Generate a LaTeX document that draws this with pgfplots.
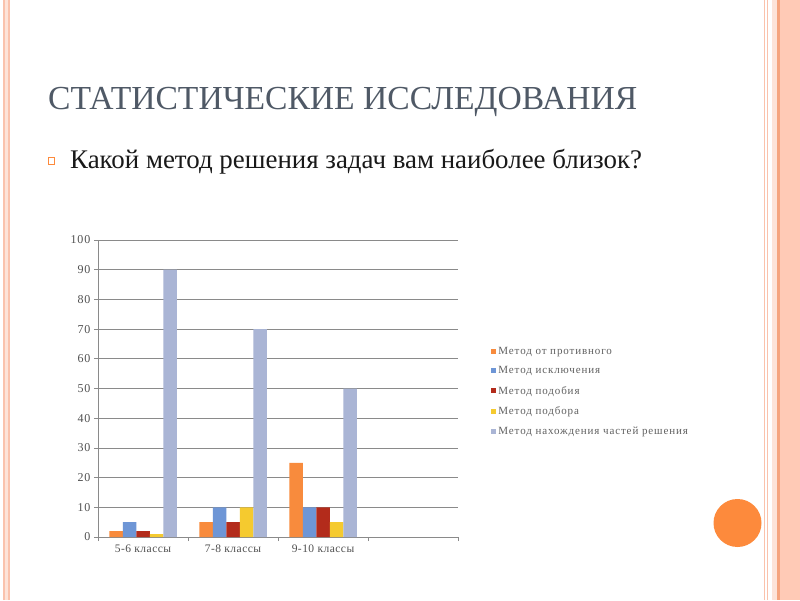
\documentclass[border=0pt]{standalone}
\usepackage{fontspec}
\setmainfont{Liberation Serif}
\usepackage{pgfplots}
\pgfplotsset{compat=1.18}

\definecolor{titlegray}{HTML}{4F5966}
\definecolor{txtgray}{HTML}{505050}
\definecolor{leggray}{HTML}{606060}
\definecolor{gridgray}{HTML}{8A8A8A}
\definecolor{borderlight}{HTML}{FDE3D8}
\definecolor{borderline}{HTML}{FAC2AC}
\definecolor{bandfill}{HTML}{FFCAB6}
\definecolor{banddark}{HTML}{F5A47E}
\definecolor{dotorange}{HTML}{FD8A3C}
\definecolor{c1}{HTML}{F88B3D}
\definecolor{c2}{HTML}{6E96D6}
\definecolor{c3}{HTML}{B32B1B}
\definecolor{c4}{HTML}{F5CA2F}
\definecolor{c5}{HTML}{AAB5D5}

\pgfplotsset{
  mybar/.style={fill=#1, draw=none,
    legend image code/.code={\fill[fill=#1] (0pt,-2.5pt) rectangle (5.5pt,2.5pt);}},
}

\begin{document}
\begin{tikzpicture}[x=1pt,y=1pt]
\useasboundingbox (0,0) rectangle (800,600);
\fill[white] (0,0) rectangle (800,600);

% slide border, left
\fill[borderlight] (3,0) rectangle (10,600);
\draw[borderline, line width=1.2pt] (4,0) -- (4,600);
\draw[borderline, line width=1.2pt] (9,0) -- (9,600);
% slide border, right
\draw[borderline, line width=1pt] (764.5,0) -- (764.5,600);
\draw[borderline, line width=1pt] (767,0) -- (767,600);
\fill[borderlight] (772,0) rectangle (777,600);
\fill[bandfill] (777,0) rectangle (800,600);
\fill[banddark] (777,0) rectangle (780,600);
\fill[dotorange] (737.5,77) circle (24);

% title and bullet
\node[anchor=base west, inner sep=0, text=titlegray,
  font=\fontsize{33.6}{34}\selectfont] at (48,490) {СТАТИСТИЧЕСКИЕ ИССЛЕДОВАНИЯ};
\draw[dotorange, line width=0.6pt] (48,436) rectangle (54,443);
\node[anchor=base west, inner sep=0, text=black!90,
  font=\fontsize{26.9}{27}\selectfont] at (70,431) {Какой метод решения задач вам наиболее близок?};

\begin{axis}[
    at={(98pt,63pt)}, anchor=south west,
    width=360pt, height=297pt, scale only axis,
    xmin=-0.5, xmax=3.5, ymin=0, ymax=100,
    ybar=0pt, bar width=13.5pt,
    axis lines*=left,
    axis line style={gridgray, line width=0.8pt},
    ymajorgrids=true,
    grid style={gridgray, line width=0.8pt},
    ytick={0,10,...,100},
    xtick={-0.5,0.5,1.5,2.5,3.5},
    xticklabels={},
    extra x ticks={0,1,2},
    extra x tick labels={5-6 классы,7-8 классы,9-10 классы},
    extra x tick style={major tick length=0pt, grid=none,
      tick label style={yshift=-4pt, font=\fontsize{11.5}{11.5}\selectfont\addfontfeatures{LetterSpace=4}}},
    tick align=outside,
    major tick length=4pt,
    tick style={gridgray, line width=0.8pt},
    /pgf/number format/assume math mode=true,
    tick label style={text=txtgray},
    yticklabel style={font=\fontsize{12}{12}\selectfont\addfontfeatures{LetterSpace=8}},
    legend style={at={(1.091,0.49)}, anchor=west, draw=none, fill=none,
      font=\fontsize{11}{11}\selectfont\addfontfeatures{LetterSpace=8}, text=leggray,
      row sep=7pt, inner sep=0pt},
    legend cell align=left,
]
\addplot[mybar=c1] coordinates {(0,2) (1,5) (2,25)};
\addplot[mybar=c2] coordinates {(0,5) (1,10) (2,10)};
\addplot[mybar=c3] coordinates {(0,2) (1,5) (2,10)};
\addplot[mybar=c4] coordinates {(0,1) (1,10) (2,5)};
\addplot[mybar=c5] coordinates {(0,90) (1,70) (2,50)};
\legend{Метод от противного, Метод исключения, Метод подобия, Метод подбора, Метод нахождения частей решения}
\end{axis}
\end{tikzpicture}
\end{document}
